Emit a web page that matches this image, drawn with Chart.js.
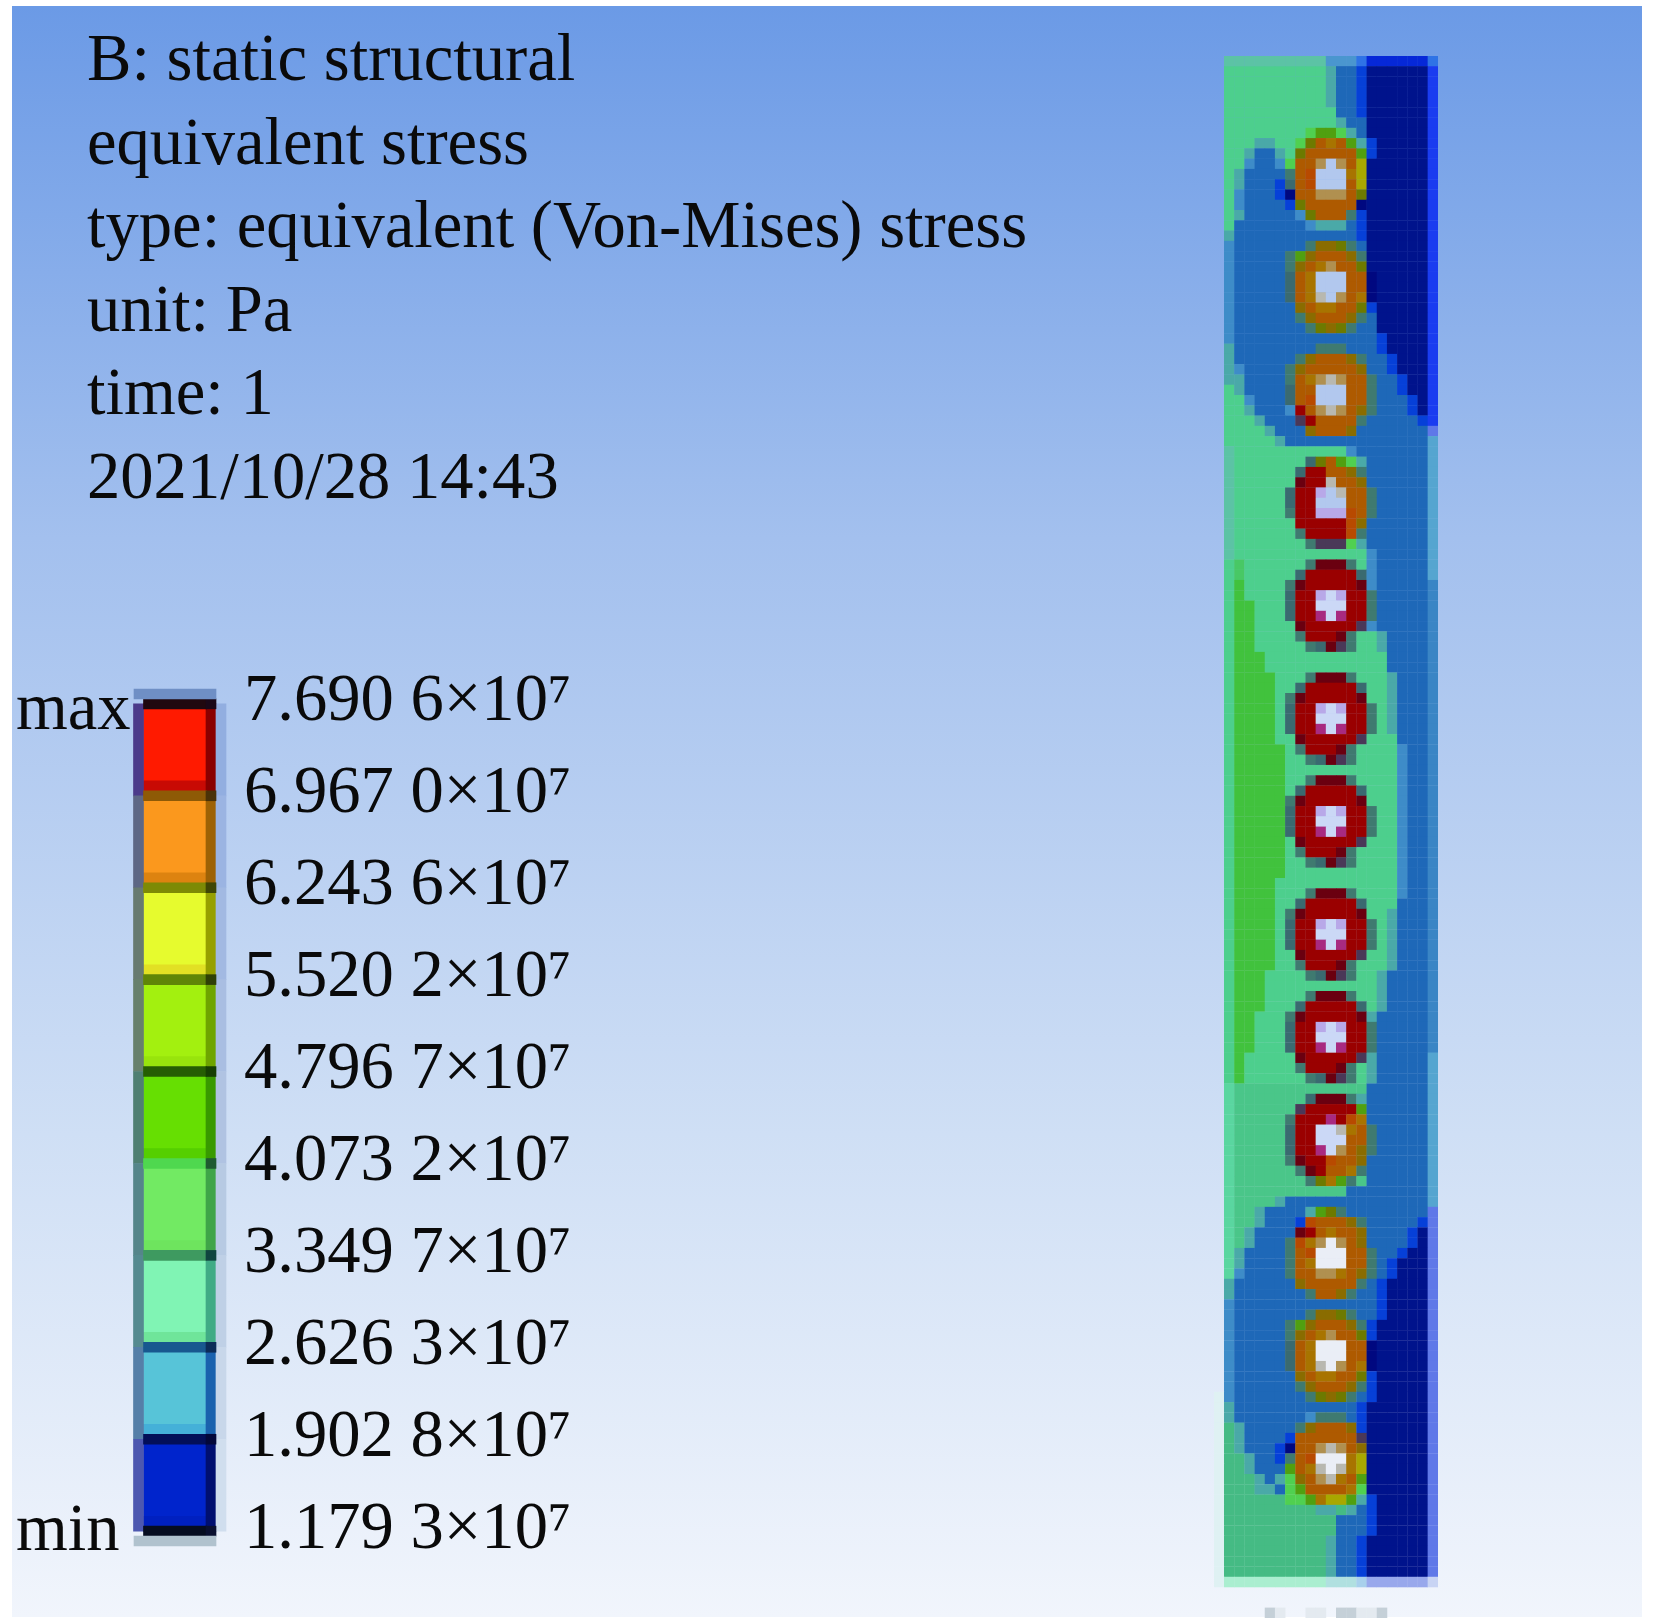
<!DOCTYPE html>
<html>
<head>
<meta charset="utf-8">
<title>equivalent stress</title>
<script src="https://cdn.jsdelivr.net/npm/chart.js@4"></script>
<style>
  html, body { margin: 0; background: #fff; }
  #page { position: relative; width: 1654px; height: 1623px; overflow: hidden; }
  #back { position: absolute; left: 12px; top: 6px; width: 1630px; height: 1611px;
          background: linear-gradient(#6b9ae6 0, #a3c0ee 33%, #cfdff5 70%, #f1f5fc 100%); }
  canvas { position: absolute; }
  #legendCanvas { left: 0; top: 0; }
  #plateCanvas { left: 1214px; top: 56px; filter: blur(0.5px); }
</style>
</head>
<body>
<div id="page">
  <div id="back"></div>
  <canvas id="legendCanvas" width="1150" height="1623"></canvas>
  <canvas id="plateCanvas" width="224" height="1562"></canvas>
</div>
<script>
const headerLines = ["B: static structural", "equivalent stress", "type: equivalent (Von-Mises) stress",
                     "unit: Pa", "time: 1", "2021/10/28 14:43"];
const stressLevels = [7.6906, 6.9670, 6.2436, 5.5202, 4.7967, 4.0732, 3.3497, 2.6263, 1.9028, 1.1793];
const tickLabels = ["7.690 6×10⁷", "6.967 0×10⁷", "6.243 6×10⁷", "5.520 2×10⁷", "4.796 7×10⁷",
                    "4.073 2×10⁷", "3.349 7×10⁷", "2.626 3×10⁷", "1.902 8×10⁷", "1.179 3×10⁷"];

// colorbar columns, one colour per band (top to bottom)
const mainColors = ["#ff1a00", "#fb981d", "#e6fb2e", "#a3f00f", "#66df02", "#72ea63", "#80f4b4", "#57c4d8", "#0024cc"];
const shadeColors = ["#c80a04", "#dd8310", "#e2e024", "#98e40c", "#55cf00", "#6ee45e", "#6fe59a", "#45b0d8", "#0020c0"];
const edgeColors = ["#20080f", "#8e5a06", "#7d8a05", "#5f8507", "#265e03", "#4fd84f", "#3e9a60", "#18588f", "#030f58", "#060d20"];
const leftColors = ["#4b3a8a", "#5d6785", "#677a70", "#67806c", "#4f7f72", "#55858a", "#558a90", "#557fa8", "#4d58b0"];
const rightColors = ["#8a0000", "#9d6205", "#96a000", "#6ea500", "#389a00", "#3fa548", "#40ab85", "#1a62ae", "#000f70"];
const rightEdgeColors = ["#1a0818", "#4a3208", "#3f4605", "#2f4006", "#164003", "#1f5a30", "#10443f", "#0c2c58", "#03083a", "#0a1030"];
const haloColors = ["#92aee0", "#9bb4e2", "#a2b9e2", "#a9bee2", "#b0c3e2", "#b7cae3", "#bfd0e6", "#c8d7ea", "#d0deee"];

// contour cell colours of the plate
const palette = {
  g: "#4dcf8d", n: "#4ac689", h: "#45bb84", V: "#41c23d", l: "#48c865", Q: "#5ad6a0", T: "#4aa9a8", X: "#3e8cc8", B: "#1e68b8",
  b: "#0640d8", N: "#00138c", e: "#1a3cf0", E: "#5f78e8", L: "#55a5d0", K: "#3a85c5", S: "#5cc3a5",
  A: "#4a96cf", D: "#2f73e6", F: "#0628d8", P: "#aaeed0", u: "#b0e0e0", v: "#a8d0ec", w: "#98a8ec",
  x: "#c8d4f4", y: "#dff1f3", z: "#c5d0d8", q: "#e4eaf0",
  O: "#ae5a00", o: "#a87400", f: "#8a6c00", J: "#6d7a00", j: "#3f7a70", I: "#50a010", i: "#50d050", W: "#b2c8ee",
  Z: "#cbd8f6", 0: "#eaeef6", 1: "#b09050", 2: "#b8b8b0", R: "#9a0000", r: "#6a0010", 3: "#4a3858",
  4: "#a82a80", 5: "#b8a8e8", 6: "#3a6a70", 7: "#b84a00", 8: "#a8a800", 9: "#000880"
};

// background rows of the plate: [how many rows, cells from the left]
const plateRows = [
  [1, ".SSSSSSSSSSAAADFFFFFFD"], [4, ".ggggggggggTBBbNNNNNNe"], [1, ".gggggggggggBBbNNNNNNe"],
  [1, ".gggggggggggTBBNNNNNNe"], [1, ".gggggggggggggBNNNNNNe"], [1, ".gggTTggggggggTbNNNNNe"],
  [1, ".ggTBBTggggggggbNNNNNe"], [1, ".ggXBBXggggggggNNNNNNe"], [2, ".gTBBBBggggggggNNNNNNe"],
  [2, ".gXBBBBBBBBBBBBNNNNNNe"], [1, ".gTBBBBBBBBBBBbNNNNNNe"], [1, ".gBBBBBBBBBBBBbNNNNNNe"],
  [1, ".TBBBBBBBBBBBBbNNNNNNe"], [6, ".XBBBBBBBBBBBBBNNNNNNe"], [1, ".XBBBBBBBBBBBBBbNNNNNe"],
  [2, ".XBBBBBBBBBBBBBBNNNNNe"], [1, ".XBBBBBBBBBBBBBBbNNNNe"], [1, ".TBBBBBBBBBBBBBBbNNNNe"],
  [1, ".TBBBBBBBBBBBBBBBbNNNe"], [1, ".TXBBBBBBBBBBBBBBbNNNe"], [1, ".TTBBBBBBBBBBBBBBBbNNe"],
  [1, ".gTBBBBBBBBBBBBBBBbNNe"], [1, ".ggXBBBBBBBBBBBBBBBbNe"], [1, ".ggTBBBBBBBBBBBBBBBbNe"],
  [1, ".gggTBBBBBBBBBBBBBBBbe"], [1, ".ggggTBBBBBBBBBBBBBBBE"], [1, ".gggggTBBBBBBBBBBBBBBL"],
  [1, ".SgggggggggggXBBBBBBBL"], [9, ".SggggggggggggXBBBBBBL"], [1, ".SgggggggggggggXBBBBBL"],
  [2, ".glggggggggggggXBBBBBL"], [2, ".gVggggggggggggXBBBBBK"], [3, ".gVVgggggggggggXBBBBBK"],
  [2, ".gVVggggggggggggTBBBBK"], [2, ".gVVVggggggggggggBBBBK"], [6, ".gVVVVgggggggggggTBBBK"],
  [1, ".gVVVVggggggggggggBBBK"], [13, ".gVVVVVgggggggggggXBBK"], [2, ".gVVVVggggggggggggXBBK"],
  [1, ".gVVVVggggggggggggBBBK"], [6, ".gVVVVgggggggggggTBBBK"], [4, ".gVVVgggggggggggTBBBBK"],
  [4, ".gVVgggggggggggTBBBBBK"], [3, ".gVggggggggggggTBBBBBL"], [10, ".QnnnnnnnnnnnnnBBBBBBL"],
  [1, ".QnnnnnnnnnnnBBBBBBBBL"], [1, ".QnnnnTBBBBBBBBBBBBBBL"], [1, ".QnnTBBBBBBBBBBBBBBBBE"],
  [1, ".QnnTBBBBBBBBBBBBBBBbE"], [2, ".QnTBBBBBBBBBBBBBBBbNE"], [1, ".QTBBBBBBBBBBBBBBBbNNE"],
  [1, ".QTBBBBBBBBBBBBBBbNNNE"], [1, ".QXBBBBBBBBBBBBBBbNNNE"], [2, ".TBBBBBBBBBBBBBBbNNNNE"],
  [2, ".XBBBBBBBBBBBBBBbNNNNE"], [7, ".XBBBBBBBBBBBBBbNNNNNE"], [1, "yXBBBBBBBBBBBBBbNNNNNE"],
  [2, "yTBBBBBBBBBBBBbNNNNNNE"], [3, "yhTBBBBBBBBBBBbNNNNNNE"], [2, "yhhTBBBBBBBBBBbNNNNNNE"],
  [1, "yhhhTBBBBBBBBBbNNNNNNE"], [1, "yhhhTTBBBBBBBBbNNNNNNE"], [1, "yhhhhhhhhhhhhhTbNNNNNE"],
  [3, "yhhhhhhhhhhhBBBbNNNNNE"], [4, "yhhhhhhhhhhTBBbNNNNNNE"], [1, "yPPPPPPPPPPuuuvwwwwwwx"],
  [2, "......................"], [1, ".....zq..qq.zzqqz....."]
];

// bolt holes, top to bottom; w stands for the hole colour of that bolt
const orangeBolt = ["...jffJj..", ".jIfOOOfj.", ".jfOo1OOJ.", ".6OowwwOO9", ".6OowwwOO9", ".6Oo2w1Oo9", "..fOooOOJ.", "..jfOOOfj.", "...jJfJj.."];
const redBolt = ["...jrrrj..", "..6RRRRR6.", ".jrRRRRRr.", ".6RR5w5RRj", ".6RRwwwRRj", ".6RR4w4RRj", "..rRRRRR3.", "..jRRRrj..", "...j6r3j.."];
const firstBolt = ["...iIIiT..", "..iJOoOIT.", "..JOOOOOI.", ".iOO1w1O8.", ".jO7wwwo8.", "b6O7wwwO8.", "b9OO111OJ.", ".bJOOOOO9.", "..XJOOOj..", "...XTTTB.."];
const thirdBolt = ["....jjj...", "..jfOOOfj.", ".jfOOOOOf.", ".jOo121OOj", ".6OOwwwOOj", ".6O7wwwOOj", ".XRO121Ofj", "..3ROOOOj.", "...fOOOf.."];
const fourthBolt = ["...6JOIiT.", "..6RROOfj.", "..rRR2OOf.", ".6RR5w2OOj", ".6RRwwwOOj", ".jRR5557Oj", "..RRRRR7f.", "..jRRRR7j.", "...j333iT."];
const tenthBolt = ["...6rrrjT.", "..3RRRRRI.", ".jRRR4R7o.", ".6RRww2oOj", ".6RRwwwOOj", ".6RR4w1Ofj", ".jrRR7OOf.", "..jrROOoj.", "...jJoIj.."];
const eleventhBolt = ["...TIJjB..", "..b7OOOfj.", "..rROoOOf.", ".j7o1w1Of.", ".jO7wwwOOj", ".jOowwwOOj", ".jOO11oOfj", "..fOOOOOj.", "...jOOfj.."];
const lastBolt = ["...XjjjB..", "..jfOOOfb.", ".bOOOOOO3.", "b9OO121Of.", "bjO7wwwo8.", ".IOo2w2o8.", "TifO12oOI.", ".iIOOOOoi.", ".iiIo88IT.", "....TThT.."];
const boltSprites = [firstBolt, orangeBolt, thirdBolt, fourthBolt, redBolt, redBolt, redBolt, redBolt, redBolt, tenthBolt, eleventhBolt, orangeBolt, lastBolt];
const boltTopRows = [7, 18, 28, 39, 49, 60, 70, 81, 91, 101, 112, 122, 132];
const boltHoles = ["W", "W", "W", "W", "Z", "Z", "Z", "Z", "Z", "Z", "0", "0", "0"];

// colorbar
const stripHalf = 0.039;
const paleTop = stressLevels[0] + stripHalf * 3;
const paleBottom = stressLevels[9] - stripHalf * 3;

function bars(name, xValue, width, ranges, colors) {
  return {
    type: "bar", xAxisID: name, yAxisID: "y", grouped: false, barPercentage: 1, categoryPercentage: 1,
    maxBarThickness: width, borderWidth: 0, clip: false,
    data: ranges.map(r => ({ x: xValue, y: r })), backgroundColor: colors
  };
}
const bands = stressLevels.slice(1).map((low, i) => [low, stressLevels[i]]);
const bandShades = stressLevels.slice(1).map(low => [low, low + stripHalf * 3]);
const edges = stressLevels.map(v => [v - stripHalf, v + stripHalf]);

const columnAxis = { type: "linear", display: false, min: 134, max: 226, offset: false, ticks: { stepSize: 92 } };

const headerPlugin = {
  id: "staticText",
  afterDraw(chart) {
    const ctx = chart.ctx;
    ctx.save();
    ctx.fillStyle = "#0a0a0a";
    ctx.font = "66.6px 'Liberation Serif'";
    ctx.textBaseline = "alphabetic";
    headerLines.forEach((line, i) => ctx.fillText(line, 87, 80 + i * 83.6));
    const y = chart.scales.y;
    ctx.fillText("max", 16, y.getPixelForValue(stressLevels[0]) + 25);
    ctx.fillText("min", 16, y.getPixelForValue(stressLevels[9]) + 19);
    ctx.restore();
  }
};

new Chart("legendCanvas", {
  data: {
    // chart.js paints the first dataset last
    datasets: [
      bars("xMain", 175, 82, [[stressLevels[0] + stripHalf, paleTop], [paleBottom, stressLevels[9] - stripHalf]], ["#6f8fc5", "#b0c2ce"]),
      bars("xRight", 211, 10, edges, rightEdgeColors),
      bars("xMain", 175, 63, edges, edgeColors),
      bars("xHalo", 221, 10, bands, haloColors),
      bars("xRight", 211, 10, bands, rightColors),
      bars("xLeft", 138.5, 10, bands, leftColors),
      bars("xMain", 175, 63, bandShades, shadeColors),
      bars("xMain", 175, 63, bands, mainColors)
    ]
  },
  options: {
    responsive: false,
    animation: false,
    layout: { padding: { left: 134, top: 689, bottom: 77, right: 564 }, autoPadding: false },
    plugins: { legend: { display: false }, tooltip: { enabled: false } },
    scales: {
      xMain: columnAxis, xLeft: columnAxis, xRight: columnAxis, xHalo: columnAxis,
      y: {
        type: "linear", position: "right", min: paleBottom, max: paleTop,
        afterBuildTicks: s => { s.ticks = stressLevels.map(v => ({ value: v })); },
        afterFit: s => { s.width = 360; },
        grid: { display: false }, border: { display: false },
        ticks: {
          autoSkip: false, padding: 10, labelOffset: -1, color: "#0a0a0a",
          font: { family: "'Liberation Serif'", size: 66.6 },
          callback: (v, i) => tickLabels[i]
        }
      }
    }
  },
  plugins: [headerPlugin]
});

// plate cells
const grid = [];
plateRows.forEach(([n, row]) => { for (let k = 0; k < n; k++) grid.push(row.split("")); });
boltSprites.forEach((sprite, b) => {
  sprite.forEach((line, r) => {
    line.split("").forEach((c, i) => {
      if (c !== ".") grid[boltTopRows[b] + r][i + 6] = c === "w" ? boltHoles[b] : c;
    });
  });
});
const cellPoints = [], cellColors = [];
grid.forEach((row, r) => row.forEach((c, i) => {
  if (c !== ".") { cellPoints.push({ x: i + 0.5, y: r + 0.5 }); cellColors.push(palette[c]); }
}));

new Chart("plateCanvas", {
  type: "scatter",
  data: { datasets: [{ data: cellPoints, backgroundColor: cellColors, pointStyle: "rect", pointRadius: 7.45, borderWidth: 0, clip: false }] },
  options: {
    responsive: false,
    animation: false,
    layout: { padding: 0, autoPadding: false },
    plugins: { legend: { display: false }, tooltip: { enabled: false } },
    scales: {
      x: { type: "linear", display: false, min: 0, max: 22 },
      y: { type: "linear", display: false, min: 0, max: 152, reverse: true }
    }
  }
});
</script>
</body>
</html>
